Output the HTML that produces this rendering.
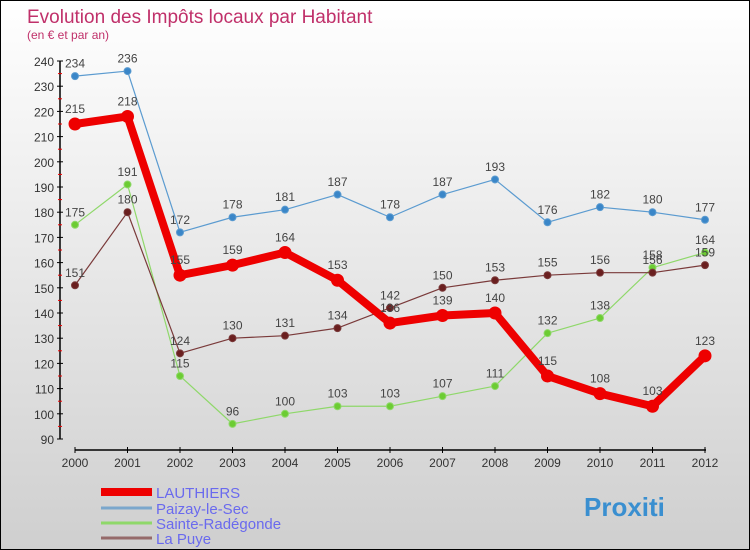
<!DOCTYPE html>
<html><head><meta charset="utf-8"><style>
body{margin:0}
#c{width:748px;height:548px;border:1px solid #000;background:linear-gradient(#ffffff,#cfcfcf);position:relative;overflow:hidden;font-family:"Liberation Sans",sans-serif}
</style></head><body>
<div id="c">
<svg id="s" width="748" height="548" xmlns="http://www.w3.org/2000/svg">
<text x="26" y="22" font-size="19" fill="#c0306a">Evolution des Impôts locaux par Habitant</text>
<text x="26" y="38" font-size="12" fill="#c0306a">(en € et par an)</text>
</svg>
</div>
<script>
const years=[2000,2001,2002,2003,2004,2005,2006,2007,2008,2009,2010,2011,2012];
const yTicks=[90,100,110,120,130,140,150,160,170,180,190,200,210,220,230,240];
const lauthiers=[215,218,155,159,164,153,136,139,140,115,108,103,123];
const paizay=[234,236,172,178,181,187,178,187,193,176,182,180,177];
const sainteRadegonde=[175,191,115,96,100,103,103,107,111,132,138,158,164];
const laPuye=[151,180,124,130,131,134,142,150,153,155,156,156,159];
const names=["LAUTHIERS","Paizay-le-Sec","Sainte-Radégonde","La Puye"];
const s=document.getElementById('s');const NS="http://www.w3.org/2000/svg";
const X=i=>74+i*52.5, Y=v=>438-(v-90)*378/150;
function el(t,a,p){const e=document.createElementNS(NS,t);for(const k in a)e.setAttribute(k,a[k]);(p||s).appendChild(e);return e;}
let ax=el('line',{x1:59,y1:60,x2:59,y2:438,stroke:'#000','stroke-width':1.5});

yTicks.forEach((v,k)=>{el('line',{x1:56,x2:62,y1:Y(v),y2:Y(v),stroke:'#000'});
if(k<yTicks.length-1)el('line',{x1:57,x2:61,y1:Y(v+5),y2:Y(v+5),stroke:'#e00'});
const t=el('text',{x:53,y:Y(v)+5,'text-anchor':'end','font-size':12,fill:'#333'});t.textContent=v;
});
let xa=el('line',{x1:74,y1:449,x2:705,y2:449,stroke:'#000','stroke-width':1.5});

years.forEach((y,i)=>{el('line',{x1:X(i),x2:X(i),y1:446,y2:452,stroke:'#000'});
const t=el('text',{x:X(i),y:466,'text-anchor':'middle','font-size':12,fill:'#333'});t.textContent=y;
});
function series(d,col,dot,w,r,fs,nm){
const g=el('g',{});
el('polyline',{points:d.map((v,i)=>X(i)+','+Y(v)).join(' '),fill:'none',stroke:col,'stroke-width':w,'stroke-linejoin':'round'},g);
d.forEach((v,i)=>{const c=el('circle',{cx:X(i),cy:Y(v),r:r,fill:dot,stroke:col,'stroke-width':1},g);

const t=el('text',{x:X(i),y:Y(v)-(r+5),'text-anchor':'middle','font-size':fs,fill:'#444'},g);t.textContent=v;
});}
series(paizay,'#5b9bd0','#3a86c8',1.2,3.5,12,'series-paizay');
series(sainteRadegonde,'#8fd86a','#6ccc33',1.2,3.5,12,'series-sainte-radegonde');
series(laPuye,'#7a3a3a','#6a1f1f',1.2,3.5,12,'series-la-puye');
series(lauthiers,'#ee0000','#ee0000',8,6,12,'series-lauthiers');
const lc=['#ee0000','#7ba7cc','#8fd86a','#956a6a'],lw=[8,3,3,3],ly=[491,507,522,537];
names.forEach((n,i)=>{const g=el('g',{});
el('line',{x1:100,x2:151,y1:ly[i],y2:ly[i],stroke:lc[i],'stroke-width':lw[i]},g);
const t=el('text',{x:155,y:ly[i]+6,'font-size':15,fill:'#6a6aee'},g);t.textContent=n;});
const lg=el('text',{x:583,y:515,'font-size':26,'font-weight':'bold',fill:'#3a8fd0'});lg.textContent='Proxiti';

</script>
</body></html>
